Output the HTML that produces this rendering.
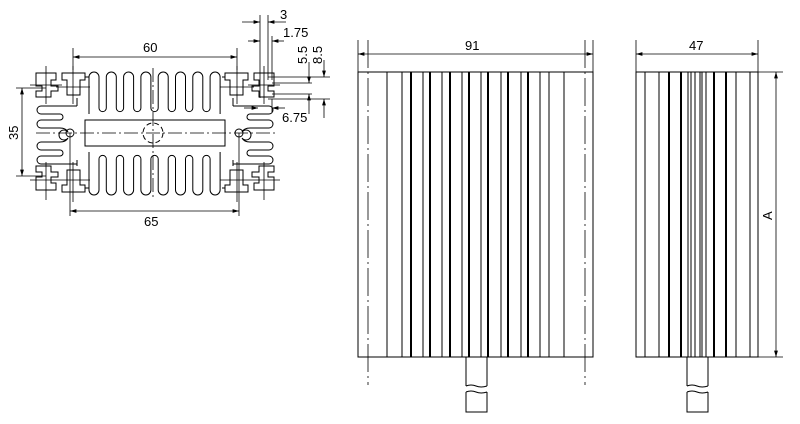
<!DOCTYPE html>
<html><head><style>
html,body{margin:0;padding:0;background:#fff;}
svg{display:block;}
text{font-family:"Liberation Sans",sans-serif;font-size:13px;fill:#000;}
</style></head><body>
<svg width="800" height="424" viewBox="0 0 800 424" xmlns="http://www.w3.org/2000/svg">
<defs>
<marker id="a" viewBox="0 0 10 6" refX="10" refY="3" markerWidth="8" markerHeight="5" orient="auto-start-reverse"><path d="M0,0 L10,3 L0,6 z" fill="#000"/></marker>
</defs>
<g fill="none" stroke="#000" stroke-width="1">
<!-- ===== LEFT PROFILE ===== -->
<!-- top fins -->
<path d="M89,114 V77 a5,5 0 0 1 10,0 V108 a3.65,3.65 0 0 0 7.3,0 V77 a5,5 0 0 1 10,0 V108 a3.65,3.65 0 0 0 7.3,0 V77 a5,5 0 0 1 10,0 V108 a3.65,3.65 0 0 0 7.3,0 V77 a5,5 0 0 1 10,0 V108 a3.65,3.65 0 0 0 7.3,0 V77 a5,5 0 0 1 10,0 V108 a3.65,3.65 0 0 0 7.3,0 V77 a5,5 0 0 1 10,0 V108 a3.65,3.65 0 0 0 7.3,0 V77 a5,5 0 0 1 10,0 V108 a3.65,3.65 0 0 0 7.3,0 V77 a5,5 0 0 1 10,0 V114"/>
<!-- bottom fins -->
<path d="M89,152 V190 a5,5 0 0 0 10,0 V159 a3.65,3.65 0 0 1 7.3,0 V190 a5,5 0 0 0 10,0 V159 a3.65,3.65 0 0 1 7.3,0 V190 a5,5 0 0 0 10,0 V159 a3.65,3.65 0 0 1 7.3,0 V190 a5,5 0 0 0 10,0 V159 a3.65,3.65 0 0 1 7.3,0 V190 a5,5 0 0 0 10,0 V159 a3.65,3.65 0 0 1 7.3,0 V190 a5,5 0 0 0 10,0 V159 a3.65,3.65 0 0 1 7.3,0 V190 a5,5 0 0 0 10,0 V159 a3.65,3.65 0 0 1 7.3,0 V190 a5,5 0 0 0 10,0 V152"/>
<!-- left side fingers -->
<path d="M77,106 H41 a4,4 0 0 0 0,8 H60 a3,3 0 0 1 0,6 H41 a4,4 0 0 0 0,8 H60 q6,0 8,4 a5,5 0 1 0 0,6 q-2,4 -8,4 H41 a4,4 0 0 0 0,8 H60 a3,3 0 0 1 0,6 H41 a4,4 0 0 0 0,8 H77"/>
<!-- right side fingers -->
<path d="M233,106 H269 a4,4 0 0 1 0,8 H250 a3,3 0 0 0 0,6 H269 a4,4 0 0 1 0,8 H250 q-6,0 -8,4 a5,5 0 1 1 0,6 q2,4 8,4 H269 a4,4 0 0 1 0,8 H250 a3,3 0 0 0 0,6 H269 a4,4 0 0 1 0,8 H233"/>
<!-- connections -->
<path d="M77,106 V98 M77,160 V166 M233,106 V98 M233,160 V166 M85,77 H89 M85,188 H89 M225,77 H222 M225,188 H222"/>
<!-- corner T slots top-left -->
<path d="M36,73 H56 V80 H51 V86 H58 V91 H51 V97 H36 V91 H42 V86 H36 Z"/>
<path d="M62,73 H85 V80 H80 V95 H67 V80 H62 Z"/>
<path d="M36,190 H56 V183 H51 V177 H58 V172 H51 V166 H36 V172 H42 V177 H36 Z"/>
<path d="M62,192 H85 V185 H80 V170 H67 V185 H62 Z"/>
<path d="M274,73 H254 V80 H259 V86 H252 V91 H259 V97 H274 V91 H268 V86 H274 Z"/>
<path d="M248,73 H225 V80 H230 V95 H243 V80 H248 Z"/>
<path d="M274,190 H254 V183 H259 V177 H252 V172 H259 V166 H274 V172 H268 V177 H274 Z"/>
<path d="M248,192 H225 V185 H230 V170 H243 V185 H248 Z"/>
<!-- central rectangle -->
<rect x="85" y="120" width="140" height="26"/>
<circle cx="153" cy="133" r="10" stroke-dasharray="5,3"/>
<circle cx="70" cy="133" r="4"/>
<circle cx="239" cy="133" r="4"/>
</g>
<g fill="none" stroke="#000" stroke-width="0.8">
<path d="M36,133 H275" stroke-dasharray="14,3,2,3"/>
<path d="M153,68 V200" stroke-dasharray="14,3,2,3"/>
<!-- crosshairs on slots -->
<path d="M46,66 V104 M30,85 H62 M73,66 V104 M56,87 H90 M46,162 V200 M30,180 H62 M73,162 V202 M56,180 H90 M264,66 V104 M248,85 H280 M237,66 V104 M220,87 H254 M264,162 V200 M248,180 H280 M237,162 V202 M220,180 H254"/>
<!-- dims -->
<path d="M73,48 V70 M237,48 V70"/>
<line x1="73" y1="57" x2="237" y2="57" marker-start="url(#a)" marker-end="url(#a)"/>
<path d="M70,133 V216 M239,133 V216"/>
<line x1="70" y1="211" x2="239" y2="211" marker-start="url(#a)" marker-end="url(#a)"/>
<path d="M16,88 H46 M16,176 H46"/>
<line x1="22" y1="88" x2="22" y2="176" marker-start="url(#a)" marker-end="url(#a)"/>
<!-- right small dims -->
<path d="M260,15 V98 M268,15 V80 M272,36 V80"/>
<line x1="242" y1="22" x2="260" y2="22" marker-end="url(#a)"/>
<line x1="286" y1="22" x2="268" y2="22" marker-end="url(#a)"/>
<line x1="248" y1="41" x2="260" y2="41" marker-end="url(#a)"/>
<line x1="284" y1="41" x2="272" y2="41" marker-end="url(#a)"/>
<path d="M268,77 H330 M272,83 H312 M272,94 H312 M268,99 H330"/>
<line x1="309" y1="62" x2="309" y2="83" marker-end="url(#a)"/>
<line x1="309" y1="114" x2="309" y2="94" marker-end="url(#a)"/>
<line x1="324" y1="60" x2="324" y2="77" marker-end="url(#a)"/>
<line x1="324" y1="118" x2="324" y2="99" marker-end="url(#a)"/>
<line x1="244" y1="108" x2="258" y2="108" marker-end="url(#a)"/>
<line x1="285" y1="108" x2="272" y2="108" marker-end="url(#a)"/>
<path d="M272,99 V112"/>
</g>
<text x="143" y="52">60</text>
<text x="144" y="226">65</text>
<text x="0" y="0" transform="translate(18,140) rotate(-90)">35</text>
<text x="280" y="19">3</text>
<text x="283" y="37">1.75</text>
<text x="282" y="122">6.75</text>
<text x="0" y="0" transform="translate(307,64) rotate(-90)">5.5</text>
<text x="0" y="0" transform="translate(322,64) rotate(-90)">8.5</text>

<!-- ===== MIDDLE VIEW ===== -->
<g fill="none" stroke="#000">
<rect x="358" y="72" width="235" height="285" stroke-width="1"/>
<g stroke-width="1">
<path d="M387,72V357 M402,72V357 M423,72V357 M442,72V357 M462,72V357 M481,72V357 M501,72V357 M521,72V357 M540,72V357 M549,72V357 M564,72V357"/>
</g>
<g stroke-width="2">
<path d="M411,72V357 M430,72V357 M450,72V357 M469,72V357 M488,72V357 M508,72V357 M528,72V357"/>
</g>
<g stroke-width="0.8">
<path d="M358,40V72 M593,40V72"/>
<line x1="358" y1="54" x2="593" y2="54" marker-start="url(#a)" marker-end="url(#a)"/>
<path d="M368,40V385 M585,40V385" stroke-dasharray="28,4,2,4"/>
</g>
<path d="M466,357V386 M487,357V386 M466,386 q5,-2 10,0 q5,2 11,0 M466,392 q5,-2 10,0 q5,2 11,0 M466,392V412 H487 V392" stroke-width="1"/>
</g>
<text x="465" y="50">91</text>

<!-- ===== RIGHT VIEW ===== -->
<g fill="none" stroke="#000">
<rect x="636" y="72" width="122" height="285" stroke-width="1"/>
<path d="M645,72V357 M659,72V357 M688,72V357 M691,72V357 M695,72V357 M700,72V357 M702,72V357 M706,72V357 M736,72V357 M750,72V357" stroke-width="1"/>
<path d="M669,72V357 M681,72V357 M714,72V357 M726,72V357" stroke-width="2"/>
<g stroke-width="0.8">
<path d="M636,40V72 M758,40V72 M758,72H783 M758,357H783"/>
<line x1="636" y1="54" x2="758" y2="54" marker-start="url(#a)" marker-end="url(#a)"/>
<line x1="776" y1="72" x2="776" y2="357" marker-start="url(#a)" marker-end="url(#a)"/>
</g>
<path d="M687,357V386 M708,357V386 M687,386 q5,-2 10,0 q5,2 11,0 M687,392 q5,-2 10,0 q5,2 11,0 M687,392V412 H708 V392" stroke-width="1"/>
</g>
<text x="689" y="50">47</text>
<text x="0" y="0" transform="translate(772,220) rotate(-90)">A</text>
</svg>
</body></html>
